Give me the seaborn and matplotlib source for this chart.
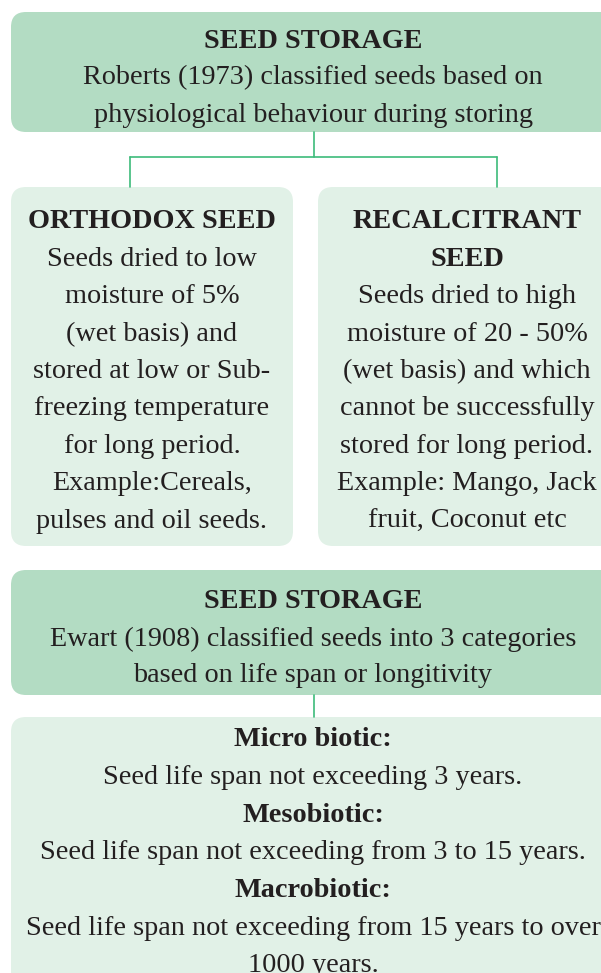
import matplotlib
matplotlib.use("Agg")
import matplotlib.pyplot as plt
from matplotlib.patches import FancyBboxPatch
import seaborn as sns

# ===============================
# Diagram content
# ===============================
top_title = "SEED STORAGE"
top_lines = ["Roberts (1973) classified seeds based on",
             "physiological behaviour during storing"]

left_title = ["ORTHODOX SEED"]
left_lines = ["Seeds dried to low", "moisture of 5%", "(wet basis) and",
              "stored at low or Sub-", "freezing temperature",
              "for long period.", "Example:Cereals,", "pulses and oil seeds."]

right_title = ["RECALCITRANT", "SEED"]
right_lines = ["Seeds dried to high", "moisture of 20 - 50%",
               "(wet basis) and which", "cannot be successfully",
               "stored for long period.", "Example: Mango, Jack",
               "fruit, Coconut etc"]

mid_title = "SEED STORAGE"
mid_lines = ["Ewart (1908) classified seeds into 3 categories",
             "based on life span or longitivity"]

bottom_items = [("Micro biotic:", "Seed life span not exceeding 3 years."),
                ("Mesobiotic:", "Seed life span not exceeding from 3 to 15 years."),
                ("Macrobiotic:", "Seed life span not exceeding from 15 years to over\n1000 years.")]

# ===============================
# Style
# ===============================
sns.set_theme(style="white")
plt.rcParams['font.family'] = ['Liberation Serif', 'DejaVu Serif']

dark_green = "#b3dcc3"
light_green = "#e1f1e7"
line_green = "#3dbb7a"
ink = "#231f20"
fs = 20.3
lh = 37.4  # line height in px

fig = plt.figure(figsize=(6.01, 9.73), dpi=100)
ax = fig.add_axes([0, 0, 1, 1])
ax.set_xlim(0, 601)
ax.set_ylim(973, 0)
ax.axis("off")


def box(x0, y0, x1, y1, color):
    p = FancyBboxPatch((x0, y0), x1 - x0, y1 - y0,
                       boxstyle="round,pad=0,rounding_size=15",
                       facecolor=color, edgecolor="none")
    ax.add_patch(p)


def write(x, y, text, bold=False):
    # y is the baseline of the line
    ax.text(x, y, text, ha="center", va="baseline", fontsize=fs,
            color=ink, fontweight="bold" if bold else "normal")


# boxes
box(11, 12, 640, 132, dark_green)
box(11, 187, 293, 546, light_green)
box(318, 187, 640, 546, light_green)
box(11, 570, 640, 695, dark_green)
box(11, 717, 640, 1000, light_green)

# connectors
ax.plot([314, 314], [132, 157], color=line_green, lw=1.2)
ax.plot([130, 497], [157, 157], color=line_green, lw=1.2)
ax.plot([130, 130], [157, 187], color=line_green, lw=1.2)
ax.plot([497, 497], [157, 187], color=line_green, lw=1.2)
ax.plot([314, 314], [695, 717], color=line_green, lw=1.2)

# top box text
write(313, 47.5, top_title, bold=True)
for i, t in enumerate(top_lines):
    write(313, 84.5 + i * 37, t)

# left box
y = 228.5
for t in left_title:
    write(152, y, t, bold=True)
    y += lh
for t in left_lines:
    write(152, y, t)
    y += lh

# right box
y = 228.5
for t in right_title:
    write(467, y, t, bold=True)
    y += lh
for t in right_lines:
    write(467, y, t)
    y += lh

# middle box
write(313, 607.5, mid_title, bold=True)
for i, t in enumerate(mid_lines):
    write(313, 645.5 + i * 36.5, t)

# bottom box
y = 746.5
for head, body in bottom_items:
    write(313, y, head, bold=True)
    y += 37.6
    for part in body.split("\n"):
        write(313, y, part)
        y += 37.6

fig.savefig("out.png", dpi=100)
